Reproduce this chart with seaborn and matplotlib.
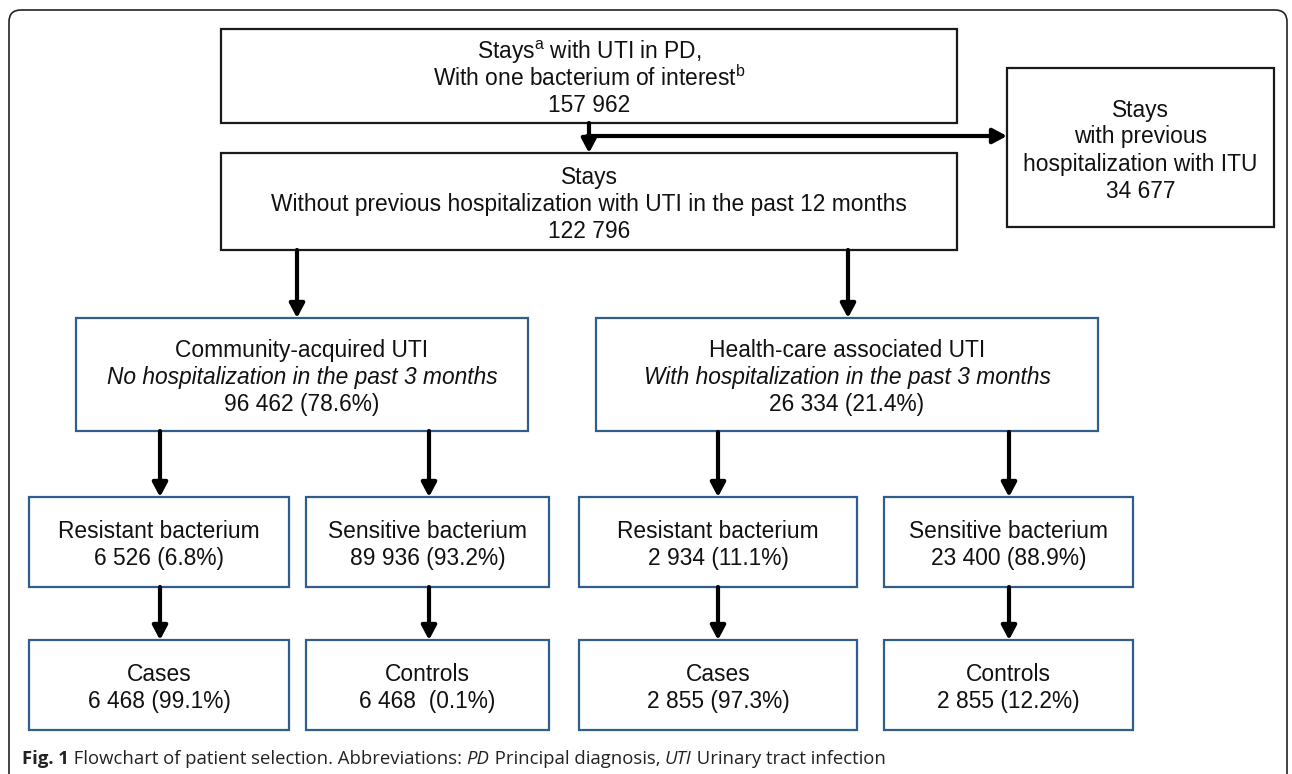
import matplotlib
matplotlib.use("Agg")
import matplotlib.pyplot as plt
from matplotlib.patches import Rectangle, FancyBboxPatch, FancyArrowPatch
import seaborn as sns

sns.set_theme(style="white")
plt.rcParams['font.family'] = ['Liberation Sans', 'DejaVu Sans']
plt.rcParams['mathtext.fontset'] = 'custom'
plt.rcParams['mathtext.rm'] = 'Liberation Sans'
plt.rcParams['mathtext.it'] = 'Liberation Sans:italic'

# box contents (text, style)
top_lines = ["Stays$^{\\mathrm{a}}$ with UTI in PD,", "With one bacterium of interest$^{\\mathrm{b}}$", "157 962"]
excl_lines = ["Stays", "with previous", "hospitalization with ITU", "34 677"]
kept_lines = ["Stays", "Without previous hospitalization with UTI in the past 12 months", "122 796"]
group_names = ["Community-acquired UTI", "Health-care associated UTI"]
group_notes = ["No hospitalization in the past 3 months", "With hospitalization in the past 3 months"]
group_counts = ["96 462 (78.6%)", "26 334 (21.4%)"]
bact_names = ["Resistant bacterium", "Sensitive bacterium", "Resistant bacterium", "Sensitive bacterium"]
bact_counts = ["6 526 (6.8%)", "89 936 (93.2%)", "2 934 (11.1%)", "23 400 (88.9%)"]
final_names = ["Cases", "Controls", "Cases", "Controls"]
final_counts = ["6 468 (99.1%)", "6 468  (0.1%)", "2 855 (97.3%)", "2 855 (12.2%)"]
caption_parts = [("Fig. 1", "bold", "normal"),
                 (" Flowchart of patient selection. Abbreviations: ", "normal", "normal"),
                 ("PD", "normal", "italic"),
                 (" Principal diagnosis, ", "normal", "normal"),
                 ("UTI", "normal", "italic"),
                 (" Urinary tract infection", "normal", "normal")]

BLACK = "#1a1a1a"
BLUE = "#2f5d8c"
FS = 16.4
LINE = 27

fig = plt.figure(figsize=(12.92, 7.74), dpi=100)
ax = fig.add_axes([0, 0, 1, 1])
ax.set_xlim(0, 1292)
ax.set_ylim(774, 0)
ax.axis("off")

# outer frame
ax.add_patch(FancyBboxPatch((9, 10), 1278, 820, boxstyle="round,pad=0,rounding_size=12",
                            fill=False, ec="#222222", lw=1.2, clip_on=True))


def box(x0, y0, x1, y1, lines, color, styles=None):
    ax.add_patch(Rectangle((x0, y0), x1 - x0, y1 - y0, fill=False, ec=color, lw=1.6))
    n = len(lines)
    cx = (x0 + x1) / 2
    cy = (y0 + y1) / 2 + 1.5
    for i, t in enumerate(lines):
        st = styles[i] if styles else "normal"
        ly = cy + (i - (n - 1) / 2) * LINE
        ax.text(cx, ly + 8, t, ha="center", va="baseline", fontsize=FS,
                fontstyle=st, color="#111111")


def arrow(x0, y0, x1, y1):
    ax.add_patch(FancyArrowPatch((x0, y0), (x1, y1), arrowstyle="-|>,head_length=0.6,head_width=0.32",
                                 mutation_scale=14, lw=3, color="black",
                                 shrinkA=0, shrinkB=0))


# top part
box(221, 29, 957, 123, top_lines, BLACK)
box(221, 153, 957, 250, kept_lines, BLACK)
box(1007, 68, 1274, 227, excl_lines, BLACK)
arrow(589, 123, 589, 153)
arrow(587, 136, 1007, 136)

# groups
group_x = [(76, 528), (596, 1098)]
group_arrow_x = [297, 848]
for (x0, x1), ax_, nm, nt, ct in zip(group_x, group_arrow_x, group_names, group_notes, group_counts):
    arrow(ax_, 250, ax_, 318)
    box(x0, 318, x1, 431, [nm, nt, ct], BLUE, ["normal", "italic", "normal"])

# bacterium + final boxes
col_x = [(29, 289), (306, 549), (579, 857), (884, 1133)]
col_arrow_x = [160, 429, 718, 1009]
group_bottom = [431, 431, 432, 432]
for (x0, x1), xa, gb, bn, bc, fn, fc in zip(col_x, col_arrow_x, group_bottom,
                                            bact_names, bact_counts, final_names, final_counts):
    arrow(xa, gb, xa, 497)
    box(x0, 497, x1, 587, [bn, bc], BLUE)
    arrow(xa, 587, xa, 640)
    box(x0, 640, x1, 730, [fn, fc], BLUE)

# caption, chained pieces
fig.canvas.draw()
renderer = fig.canvas.get_renderer()
cx = 22
for txt, wt, st in caption_parts:
    t = ax.text(cx, 764, txt, ha="left", va="baseline", fontsize=13.3, fontweight=wt,
                fontstyle=st, family=["Open Sans", "DejaVu Sans"], color="#222222")
    bb = t.get_window_extent(renderer)
    cx += bb.width

fig.savefig("out.png", dpi=100)
